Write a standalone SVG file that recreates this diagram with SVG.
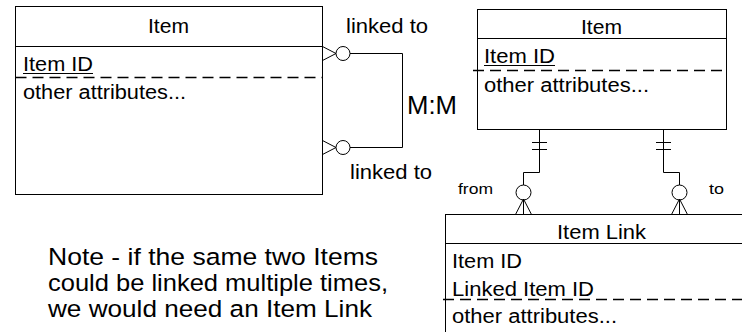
<svg xmlns="http://www.w3.org/2000/svg" width="742" height="332" viewBox="0 0 742 332">
<style>
.box{fill:#fff;stroke:#000;stroke-width:1}
.ln{fill:none;stroke:#000;stroke-width:1}
.dash{fill:none;stroke:#000;stroke-width:1.3;stroke-dasharray:11 6}
.t{font-family:"Liberation Sans",Arial,sans-serif;font-size:19.5px;fill:#000}
.s{font-family:"Liberation Sans",Arial,sans-serif;font-size:15.5px;fill:#000}
.n{font-family:"Liberation Sans",Arial,sans-serif;font-size:24.5px;fill:#000}
.c{fill:#fff;stroke:#000;stroke-width:1}
</style>
<rect width="742" height="332" fill="#fff"/>
<g id="item-left">
<rect class="box" x="15.5" y="6.5" width="307" height="188"/>
<line class="ln" x1="15.5" y1="46.5" x2="322.5" y2="46.5"/>
<text class="t" x="168.5" y="33" text-anchor="middle" textLength="41" lengthAdjust="spacingAndGlyphs">Item</text>
<text class="t" x="23" y="71" textLength="70" lengthAdjust="spacingAndGlyphs">Item ID</text>
<line class="ln" x1="23" y1="73.5" x2="93" y2="73.5"/>
<line class="dash" x1="15.5" y1="77.5" x2="322.5" y2="77.5"/>
<text class="t" x="23" y="99" textLength="163" lengthAdjust="spacingAndGlyphs">other attributes...</text>
</g>
<g id="item-right">
<rect class="box" x="477.5" y="9.5" width="249" height="120"/>
<line class="ln" x1="477.5" y1="38.5" x2="726.5" y2="38.5"/>
<text class="t" x="601.5" y="34" text-anchor="middle" textLength="41" lengthAdjust="spacingAndGlyphs">Item</text>
<text class="t" x="484" y="63" textLength="71" lengthAdjust="spacingAndGlyphs">Item ID</text>
<line class="ln" x1="484" y1="65.5" x2="555" y2="65.5"/>
<line class="dash" x1="473" y1="70.5" x2="726.5" y2="70.5"/>
<text class="t" x="484" y="92" textLength="165" lengthAdjust="spacingAndGlyphs">other attributes...</text>
</g>
<g id="item-link">
<rect class="box" x="445.5" y="214.5" width="310" height="130"/>
<line class="ln" x1="445.5" y1="243.5" x2="742" y2="243.5"/>
<text class="t" x="601.5" y="239" text-anchor="middle" textLength="89" lengthAdjust="spacingAndGlyphs">Item Link</text>
<text class="t" x="452" y="268" textLength="70" lengthAdjust="spacingAndGlyphs">Item ID</text>
<text class="t" x="452" y="296" textLength="142" lengthAdjust="spacingAndGlyphs">Linked Item ID</text>
<line class="dash" x1="443" y1="299.5" x2="742" y2="299.5"/>
<text class="t" x="452" y="323" textLength="165" lengthAdjust="spacingAndGlyphs">other attributes...</text>
</g>
<g id="connectors">
<path class="ln" d="M322.5,46.5 L336,53.5 L322.5,60.5"/>
<circle class="c" cx="343" cy="53.5" r="7"/>
<path class="ln" d="M350,53.5 H402.5 V147.5 H350"/>
<path class="ln" d="M322.5,140.5 L336,147.5 L322.5,154.5"/>
<circle class="c" cx="343" cy="147.5" r="7"/>
<path class="ln" d="M539.5,129.5 V172.5 H523.5 V185"/>
<path class="ln" d="M532,142.5 H547 M532,149.5 H547"/>
<circle class="c" cx="523.5" cy="192.5" r="7.5"/>
<path class="ln" d="M515.5,214.5 L523.5,199 L531.5,214.5 M523.5,199 V214.5"/>
<path class="ln" d="M663.5,129.5 V172.5 H679.5 V185"/>
<path class="ln" d="M656,142.5 H671 M656,149.5 H671"/>
<circle class="c" cx="679.5" cy="192.5" r="7.5"/>
<path class="ln" d="M671.5,214.5 L679.5,199 L687.5,214.5 M679.5,199 V214.5"/>
</g>
<g id="labels">
<text class="t" x="346" y="33" textLength="82" lengthAdjust="spacingAndGlyphs">linked to</text>
<text class="t" x="350" y="179" textLength="82" lengthAdjust="spacingAndGlyphs">linked to</text>
<text class="t" x="407" y="114" style="font-size:25px" textLength="50" lengthAdjust="spacingAndGlyphs">M:M</text>
<text class="s" x="458" y="194" textLength="35" lengthAdjust="spacingAndGlyphs">from</text>
<text class="s" x="709" y="194" textLength="15" lengthAdjust="spacingAndGlyphs">to</text>
</g>
<g id="note">
<text class="n" x="48" y="265" textLength="330" lengthAdjust="spacingAndGlyphs">Note - if the same two Items</text>
<text class="n" x="48" y="291" textLength="340" lengthAdjust="spacingAndGlyphs">could be linked multiple times,</text>
<text class="n" x="48" y="317" textLength="324" lengthAdjust="spacingAndGlyphs">we would need an Item Link</text>
</g>
</svg>
